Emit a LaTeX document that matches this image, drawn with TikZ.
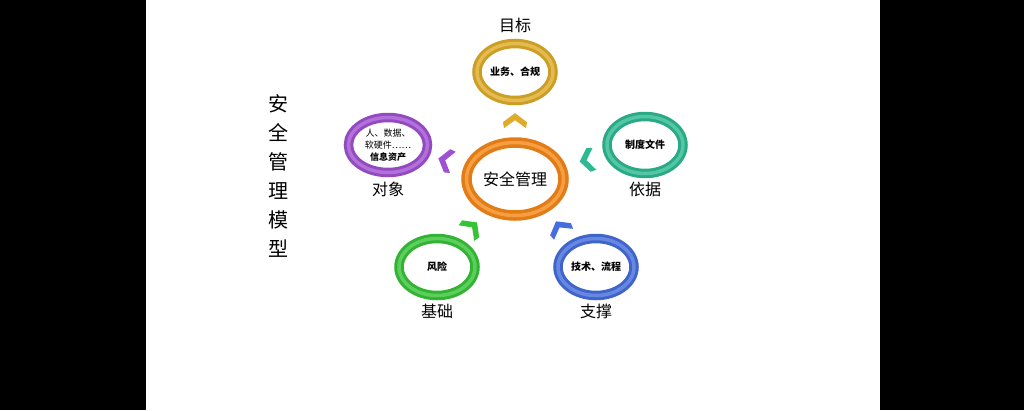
\documentclass[tikz,border=0pt]{standalone}
\usepackage{fontspec}
\newfontfamily\cjk{Noto Sans CJK SC}
\definecolor{ringGold}{RGB}{222,172,40}
\definecolor{ringOrange}{RGB}{245,135,25}
\definecolor{ringPurple}{RGB}{160,80,210}
\definecolor{ringTeal}{RGB}{45,185,145}
\definecolor{ringGreen}{RGB}{55,195,55}
\definecolor{ringBlue}{RGB}{70,110,220}
\usetikzlibrary{positioning,shapes.geometric,calc}

\begin{document}
\begin{tikzpicture}[x=1pt, y=-1pt,
  ring/.style={ellipse, draw=#1!92!black, double=#1!82!white, line width=3pt,
               double distance=3.5pt, fill=white, inner sep=0pt,
               minimum width=76pt, minimum height=57pt, align=center,
               font=\cjk\bfseries\fontsize{10}{12}\selectfont},
  caption/.style={font=\cjk\fontsize{16}{18}\selectfont},
  chev/.pic={\fill[pic actions] (0,-7) -- (12,2) -- (11,8) -- (0,0) -- (-11,8) -- (-12,2) -- cycle;}
]
  \fill[black] (0,0) rectangle (1024,410);
  \fill[white] (146,0) rectangle (880,410);

  \node[font=\cjk\fontsize{20}{29}\selectfont, align=center] (title) at (278,176)
    {安\\全\\管\\理\\模\\型};

  \node[ring=ringOrange, minimum width=97pt, minimum height=73pt,
        line width=3.5pt, font=\cjk\fontsize{16}{18}\selectfont] (core) at (515,179) {安全管理};
  \node[ring=ringGold]   (goal)  at (515,72)  {业务、合规};
  \node[ring=ringPurple, minimum width=79pt, minimum height=55pt,
        font=\cjk\fontsize{9}{12}\selectfont] (obj) at (388,145)
    {人、数据、\\软硬件……\\\bfseries 信息资产};
  \node[ring=ringTeal]   (basis) at (645,145) {制度文件};
  \node[ring=ringGreen]  (found) at (437,267) {风险};
  \node[ring=ringBlue]   (supp)  at (596,267) {技术、流程};

  \node[caption, above=6pt of goal]  (goallbl)  {目标};
  \node[caption, below=4pt of obj]   (objlbl)   {对象};
  \node[caption, below=4pt of basis] (basislbl) {依据};
  \node[caption, below=4pt of found] (foundlbl) {基础};
  \node[caption, below=4pt of supp]  (supplbl)  {支撑};

  % chevrons between the centre and each ring
  \path ($(core)!0.55!(goal)$)  pic[fill=ringGold]                {chev};
  \path ($(core)!0.55!(obj)$)   pic[fill=ringPurple, rotate=75]   {chev};
  \path ($(core)!0.55!(basis)$) pic[fill=ringTeal, rotate=100]    {chev};
  \path ($(core)!0.55!(found)$) pic[fill=ringGreen, rotate=-45]   {chev};
  \path ($(core)!0.55!(supp)$)  pic[fill=ringBlue, rotate=30]     {chev};
\end{tikzpicture}
\end{document}
